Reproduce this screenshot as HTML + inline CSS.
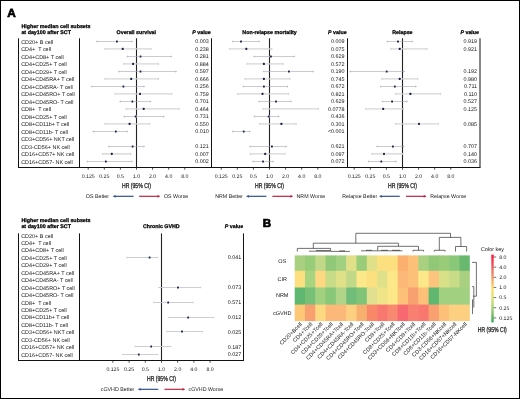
<!DOCTYPE html>
<html><head><meta charset="utf-8"><style>
html,body{margin:0;padding:0;background:#fff;width:520px;height:399px;overflow:hidden;position:relative}
text{font-family:"Liberation Sans", sans-serif;white-space:pre}
svg{text-rendering:geometricPrecision}
</style></head><body>
<svg width="520" height="399" viewBox="0 0 520 399" style="position:absolute;left:0;top:0;will-change:transform;font-family:'Liberation Sans', sans-serif">
<rect x="0" y="0" width="520" height="399" fill="#fff"/>
<rect x="0.5" y="0.5" width="519" height="398" fill="none" stroke="#000" stroke-width="1"/>
<text  x="7.20" y="16.60" font-size="11.8" text-anchor="start" font-weight="bold" fill="#000"   stroke="#000" stroke-width="0.7">A</text>
<text  x="262.70" y="226.70" font-size="11.6" text-anchor="start" font-weight="bold" fill="#000"   stroke="#000" stroke-width="0.7">B</text>
<text  x="21.40" y="27.50" font-size="5.35" text-anchor="start" font-weight="bold" fill="#000"   stroke="#000" stroke-width="0.25">Higher median cell subsets</text>
<text  x="21.40" y="33.60" font-size="5.35" text-anchor="start" font-weight="bold" fill="#000"   stroke="#000" stroke-width="0.25">at day100 after SCT</text>
<line x1="18.50" y1="38.30" x2="18.50" y2="167.50" stroke="#111" stroke-width="1"/>
<line x1="79.50" y1="38.30" x2="79.50" y2="167.50" stroke="#111" stroke-width="1"/>
<line x1="18.00" y1="167.50" x2="480.50" y2="167.50" stroke="#111" stroke-width="1"/>
<text class="r" x="21.20" y="43.50" font-size="5.45" text-anchor="start" font-weight="normal" fill="#151515"   >CD20+ B cell</text>
<text class="r" x="21.20" y="51.00" font-size="5.45" text-anchor="start" font-weight="normal" fill="#151515"   >CD4+  T cell</text>
<text class="r" x="21.20" y="58.50" font-size="5.45" text-anchor="start" font-weight="normal" fill="#151515"   >CD4+CD8+ T cell</text>
<text class="r" x="21.20" y="66.00" font-size="5.45" text-anchor="start" font-weight="normal" fill="#151515"   >CD4+CD25+ T cell</text>
<text class="r" x="21.20" y="73.50" font-size="5.45" text-anchor="start" font-weight="normal" fill="#151515"   >CD4+CD29+ T cell</text>
<text class="r" x="21.20" y="81.00" font-size="5.45" text-anchor="start" font-weight="normal" fill="#151515"   >CD4+CD45RA+ T cell</text>
<text class="r" x="21.20" y="88.50" font-size="5.45" text-anchor="start" font-weight="normal" fill="#151515"   >CD4+CD45RA- T cell</text>
<text class="r" x="21.20" y="96.00" font-size="5.45" text-anchor="start" font-weight="normal" fill="#151515"   >CD4+CD45RO+ T cell</text>
<text class="r" x="21.20" y="103.50" font-size="5.45" text-anchor="start" font-weight="normal" fill="#151515"   >CD4+CD45RO- T cell</text>
<text class="r" x="21.20" y="111.00" font-size="5.45" text-anchor="start" font-weight="normal" fill="#151515"   >CD8+  T cell</text>
<text class="r" x="21.20" y="118.50" font-size="5.45" text-anchor="start" font-weight="normal" fill="#151515"   >CD8+CD25+ T cell</text>
<text class="r" x="21.20" y="126.00" font-size="5.45" text-anchor="start" font-weight="normal" fill="#151515"   >CD8+CD11b+ T cell</text>
<text class="r" x="21.20" y="133.50" font-size="5.45" text-anchor="start" font-weight="normal" fill="#151515"   >CD8+CD11b- T cell</text>
<text class="r" x="21.20" y="141.00" font-size="5.45" text-anchor="start" font-weight="normal" fill="#151515"   >CD3+CD56+ NKT cell</text>
<text class="r" x="21.20" y="148.50" font-size="5.45" text-anchor="start" font-weight="normal" fill="#151515"   >CD3-CD56+ NK cell</text>
<text class="r" x="21.20" y="156.00" font-size="5.45" text-anchor="start" font-weight="normal" fill="#151515"   >CD16+CD57+ NK cell</text>
<text class="r" x="21.20" y="163.50" font-size="5.45" text-anchor="start" font-weight="normal" fill="#151515"   >CD16+CD57- NK cell</text>
<line x1="211.50" y1="38.30" x2="211.50" y2="167.50" stroke="#111" stroke-width="1"/>
<line x1="136.50" y1="38.30" x2="136.50" y2="167.50" stroke="#222" stroke-width="1.1"/>
<text  x="136.30" y="33.60" font-size="5.3" text-anchor="middle" font-weight="bold" fill="#000"   stroke="#000" stroke-width="0.25">Overall survival</text>
<text x="210.80" y="33.60" font-size="5.3" text-anchor="end" font-weight="bold" fill="#000" stroke="#000" stroke-width="0.25"><tspan font-style="italic">P</tspan> value</text>
<line x1="96.20" y1="41.50" x2="132.60" y2="41.50" stroke="#a2a6b8" stroke-width="0.6"/>
<path d="M97.40 40.70 L96.20 41.50 L97.40 42.30" stroke="#a2a6b8" stroke-width="0.5" fill="none"/>
<path d="M131.40 40.70 L132.60 41.50 L131.40 42.30" stroke="#a2a6b8" stroke-width="0.5" fill="none"/>
<rect x="115.95" y="40.45" width="1.9" height="2.1" rx="0.5" fill="#1b2444" stroke="#fff" stroke-width="0.7" paint-order="stroke"/>
<text class="r" x="208.80" y="43.10" font-size="5.4" text-anchor="end" font-weight="normal" fill="#151515"   >0.003</text>
<line x1="104.90" y1="48.90" x2="151.10" y2="48.90" stroke="#d6d6d6" stroke-width="1.4"/>
<line x1="104.90" y1="47.80" x2="104.90" y2="50.00" stroke="#cfcfd4" stroke-width="0.9"/>
<line x1="151.10" y1="47.80" x2="151.10" y2="50.00" stroke="#cfcfd4" stroke-width="0.9"/>
<rect x="121.75" y="47.85" width="1.9" height="2.1" rx="0.5" fill="#1b2444" stroke="#fff" stroke-width="0.7" paint-order="stroke"/>
<text class="r" x="208.80" y="50.60" font-size="5.4" text-anchor="end" font-weight="normal" fill="#151515"   >0.238</text>
<line x1="126.80" y1="56.50" x2="171.90" y2="56.50" stroke="#a2a6b8" stroke-width="0.6"/>
<path d="M128.00 55.70 L126.80 56.50 L128.00 57.30" stroke="#a2a6b8" stroke-width="0.5" fill="none"/>
<path d="M170.70 55.70 L171.90 56.50 L170.70 57.30" stroke="#a2a6b8" stroke-width="0.5" fill="none"/>
<rect x="139.55" y="55.45" width="1.9" height="2.1" rx="0.5" fill="#1b2444" stroke="#fff" stroke-width="0.7" paint-order="stroke"/>
<text class="r" x="208.80" y="58.10" font-size="5.4" text-anchor="end" font-weight="normal" fill="#151515"   >0.281</text>
<line x1="123.80" y1="63.90" x2="158.50" y2="63.90" stroke="#d6d6d6" stroke-width="1.4"/>
<line x1="123.80" y1="62.80" x2="123.80" y2="65.00" stroke="#cfcfd4" stroke-width="0.9"/>
<line x1="158.50" y1="62.80" x2="158.50" y2="65.00" stroke="#cfcfd4" stroke-width="0.9"/>
<rect x="132.15" y="62.85" width="1.9" height="2.1" rx="0.5" fill="#1b2444" stroke="#fff" stroke-width="0.7" paint-order="stroke"/>
<text class="r" x="208.80" y="65.60" font-size="5.4" text-anchor="end" font-weight="normal" fill="#151515"   >0.884</text>
<line x1="118.50" y1="71.50" x2="176.50" y2="71.50" stroke="#a2a6b8" stroke-width="0.6"/>
<path d="M119.70 70.70 L118.50 71.50 L119.70 72.30" stroke="#a2a6b8" stroke-width="0.5" fill="none"/>
<path d="M175.30 70.70 L176.50 71.50 L175.30 72.30" stroke="#a2a6b8" stroke-width="0.5" fill="none"/>
<rect x="139.55" y="70.45" width="1.9" height="2.1" rx="0.5" fill="#1b2444" stroke="#fff" stroke-width="0.7" paint-order="stroke"/>
<text class="r" x="208.80" y="73.10" font-size="5.4" text-anchor="end" font-weight="normal" fill="#151515"   >0.597</text>
<line x1="104.90" y1="78.90" x2="158.50" y2="78.90" stroke="#d6d6d6" stroke-width="1.4"/>
<line x1="104.90" y1="77.80" x2="104.90" y2="80.00" stroke="#cfcfd4" stroke-width="0.9"/>
<line x1="158.50" y1="77.80" x2="158.50" y2="80.00" stroke="#cfcfd4" stroke-width="0.9"/>
<rect x="130.25" y="77.85" width="1.9" height="2.1" rx="0.5" fill="#1b2444" stroke="#fff" stroke-width="0.7" paint-order="stroke"/>
<text class="r" x="208.80" y="80.60" font-size="5.4" text-anchor="end" font-weight="normal" fill="#151515"   >0.666</text>
<line x1="91.10" y1="86.50" x2="144.60" y2="86.50" stroke="#a2a6b8" stroke-width="0.6"/>
<path d="M92.30 85.70 L91.10 86.50 L92.30 87.30" stroke="#a2a6b8" stroke-width="0.5" fill="none"/>
<path d="M143.40 85.70 L144.60 86.50 L143.40 87.30" stroke="#a2a6b8" stroke-width="0.5" fill="none"/>
<rect x="122.45" y="85.45" width="1.9" height="2.1" rx="0.5" fill="#1b2444" stroke="#fff" stroke-width="0.7" paint-order="stroke"/>
<text class="r" x="208.80" y="88.10" font-size="5.4" text-anchor="end" font-weight="normal" fill="#151515"   >0.256</text>
<line x1="115.10" y1="93.90" x2="171.90" y2="93.90" stroke="#d6d6d6" stroke-width="1.4"/>
<line x1="115.10" y1="92.80" x2="115.10" y2="95.00" stroke="#cfcfd4" stroke-width="0.9"/>
<line x1="171.90" y1="92.80" x2="171.90" y2="95.00" stroke="#cfcfd4" stroke-width="0.9"/>
<rect x="139.05" y="92.85" width="1.9" height="2.1" rx="0.5" fill="#1b2444" stroke="#fff" stroke-width="0.7" paint-order="stroke"/>
<text class="r" x="208.80" y="95.60" font-size="5.4" text-anchor="end" font-weight="normal" fill="#151515"   >0.759</text>
<line x1="119.70" y1="101.50" x2="151.10" y2="101.50" stroke="#a2a6b8" stroke-width="0.6"/>
<path d="M120.90 100.70 L119.70 101.50 L120.90 102.30" stroke="#a2a6b8" stroke-width="0.5" fill="none"/>
<path d="M149.90 100.70 L151.10 101.50 L149.90 102.30" stroke="#a2a6b8" stroke-width="0.5" fill="none"/>
<rect x="131.45" y="100.45" width="1.9" height="2.1" rx="0.5" fill="#1b2444" stroke="#fff" stroke-width="0.7" paint-order="stroke"/>
<text class="r" x="208.80" y="103.10" font-size="5.4" text-anchor="end" font-weight="normal" fill="#151515"   >0.701</text>
<line x1="126.20" y1="108.90" x2="179.20" y2="108.90" stroke="#d6d6d6" stroke-width="1.4"/>
<line x1="126.20" y1="107.80" x2="126.20" y2="110.00" stroke="#cfcfd4" stroke-width="0.9"/>
<line x1="179.20" y1="107.80" x2="179.20" y2="110.00" stroke="#cfcfd4" stroke-width="0.9"/>
<rect x="142.75" y="107.85" width="1.9" height="2.1" rx="0.5" fill="#1b2444" stroke="#fff" stroke-width="0.7" paint-order="stroke"/>
<text class="r" x="208.80" y="110.60" font-size="5.4" text-anchor="end" font-weight="normal" fill="#151515"   >0.464</text>
<line x1="123.80" y1="116.50" x2="164.20" y2="116.50" stroke="#a2a6b8" stroke-width="0.6"/>
<path d="M125.00 115.70 L123.80 116.50 L125.00 117.30" stroke="#a2a6b8" stroke-width="0.5" fill="none"/>
<path d="M163.00 115.70 L164.20 116.50 L163.00 117.30" stroke="#a2a6b8" stroke-width="0.5" fill="none"/>
<rect x="134.65" y="115.45" width="1.9" height="2.1" rx="0.5" fill="#1b2444" stroke="#fff" stroke-width="0.7" paint-order="stroke"/>
<text class="r" x="208.80" y="118.10" font-size="5.4" text-anchor="end" font-weight="normal" fill="#151515"   >0.731</text>
<line x1="104.90" y1="123.90" x2="149.70" y2="123.90" stroke="#d6d6d6" stroke-width="1.4"/>
<line x1="104.90" y1="122.80" x2="104.90" y2="125.00" stroke="#cfcfd4" stroke-width="0.9"/>
<line x1="149.70" y1="122.80" x2="149.70" y2="125.00" stroke="#cfcfd4" stroke-width="0.9"/>
<rect x="128.65" y="122.85" width="1.9" height="2.1" rx="0.5" fill="#1b2444" stroke="#fff" stroke-width="0.7" paint-order="stroke"/>
<text class="r" x="208.80" y="125.60" font-size="5.4" text-anchor="end" font-weight="normal" fill="#151515"   >0.550</text>
<line x1="92.70" y1="131.50" x2="127.80" y2="131.50" stroke="#a2a6b8" stroke-width="0.6"/>
<path d="M93.90 130.70 L92.70 131.50 L93.90 132.30" stroke="#a2a6b8" stroke-width="0.5" fill="none"/>
<path d="M126.60 130.70 L127.80 131.50 L126.60 132.30" stroke="#a2a6b8" stroke-width="0.5" fill="none"/>
<rect x="114.85" y="130.45" width="1.9" height="2.1" rx="0.5" fill="#1b2444" stroke="#fff" stroke-width="0.7" paint-order="stroke"/>
<text class="r" x="208.80" y="133.10" font-size="5.4" text-anchor="end" font-weight="normal" fill="#151515"   >0.010</text>
<line x1="108.20" y1="146.50" x2="144.60" y2="146.50" stroke="#a2a6b8" stroke-width="0.6"/>
<path d="M109.40 145.70 L108.20 146.50 L109.40 147.30" stroke="#a2a6b8" stroke-width="0.5" fill="none"/>
<path d="M143.40 145.70 L144.60 146.50 L143.40 147.30" stroke="#a2a6b8" stroke-width="0.5" fill="none"/>
<rect x="131.65" y="145.45" width="1.9" height="2.1" rx="0.5" fill="#1b2444" stroke="#fff" stroke-width="0.7" paint-order="stroke"/>
<text class="r" x="208.80" y="148.10" font-size="5.4" text-anchor="end" font-weight="normal" fill="#151515"   >0.121</text>
<line x1="102.40" y1="153.90" x2="130.80" y2="153.90" stroke="#d6d6d6" stroke-width="1.4"/>
<line x1="102.40" y1="152.80" x2="102.40" y2="155.00" stroke="#cfcfd4" stroke-width="0.9"/>
<line x1="130.80" y1="152.80" x2="130.80" y2="155.00" stroke="#cfcfd4" stroke-width="0.9"/>
<rect x="110.85" y="152.85" width="1.9" height="2.1" rx="0.5" fill="#1b2444" stroke="#fff" stroke-width="0.7" paint-order="stroke"/>
<text class="r" x="208.80" y="155.60" font-size="5.4" text-anchor="end" font-weight="normal" fill="#151515"   >0.007</text>
<line x1="86.90" y1="161.50" x2="132.60" y2="161.50" stroke="#a2a6b8" stroke-width="0.6"/>
<path d="M88.10 160.70 L86.90 161.50 L88.10 162.30" stroke="#a2a6b8" stroke-width="0.5" fill="none"/>
<path d="M131.40 160.70 L132.60 161.50 L131.40 162.30" stroke="#a2a6b8" stroke-width="0.5" fill="none"/>
<rect x="104.85" y="160.45" width="1.9" height="2.1" rx="0.5" fill="#1b2444" stroke="#fff" stroke-width="0.7" paint-order="stroke"/>
<text class="r" x="208.80" y="163.10" font-size="5.4" text-anchor="end" font-weight="normal" fill="#151515"   >0.002</text>
<line x1="88.20" y1="167.50" x2="88.20" y2="169.70" stroke="#222" stroke-width="0.8"/>
<text class="r" x="88.20" y="178.00" font-size="5.2" text-anchor="middle" font-weight="normal" fill="#151515"   >0.125</text>
<line x1="104.30" y1="167.50" x2="104.30" y2="169.70" stroke="#222" stroke-width="0.8"/>
<text class="r" x="104.30" y="178.00" font-size="5.2" text-anchor="middle" font-weight="normal" fill="#151515"   >0.25</text>
<line x1="120.40" y1="167.50" x2="120.40" y2="169.70" stroke="#222" stroke-width="0.8"/>
<text class="r" x="120.40" y="178.00" font-size="5.2" text-anchor="middle" font-weight="normal" fill="#151515"   >0.5</text>
<line x1="136.50" y1="167.50" x2="136.50" y2="169.70" stroke="#222" stroke-width="0.8"/>
<text class="r" x="136.50" y="178.00" font-size="5.2" text-anchor="middle" font-weight="normal" fill="#151515"   >1.0</text>
<line x1="152.60" y1="167.50" x2="152.60" y2="169.70" stroke="#222" stroke-width="0.8"/>
<text class="r" x="152.60" y="178.00" font-size="5.2" text-anchor="middle" font-weight="normal" fill="#151515"   >2.0</text>
<line x1="168.70" y1="167.50" x2="168.70" y2="169.70" stroke="#222" stroke-width="0.8"/>
<text class="r" x="168.70" y="178.00" font-size="5.2" text-anchor="middle" font-weight="normal" fill="#151515"   >4.0</text>
<line x1="184.80" y1="167.50" x2="184.80" y2="169.70" stroke="#222" stroke-width="0.8"/>
<text class="r" x="184.80" y="178.00" font-size="5.2" text-anchor="middle" font-weight="normal" fill="#151515"   >8.0</text>
<text x="0" y="0" font-size="7.1" text-anchor="middle" font-weight="normal" fill="#222" stroke="#222" stroke-width="0.3" transform="translate(136.50,187.90) scale(0.72,1)">HR (95% CI)</text>
<text class="r" x="85.80" y="198.20" font-size="5.3" text-anchor="start" font-weight="normal" fill="#151515"   >OS Better</text>
<text class="r" x="163.90" y="198.20" font-size="5.3" text-anchor="start" font-weight="normal" fill="#151515"   >OS Worse</text>
<line x1="114.10" y1="196.30" x2="133.60" y2="196.30" stroke="#2a4a8a" stroke-width="1.15"/>
<path d="M112.60 196.30 L115.80 194.95 L115.20 196.30 L115.80 197.65 Z" fill="#2a4a8a"/>
<line x1="139.10" y1="196.30" x2="159.00" y2="196.30" stroke="#b81c3c" stroke-width="1.15"/>
<path d="M160.50 196.30 L157.30 194.95 L157.90 196.30 L157.30 197.65 Z" fill="#b81c3c"/>
<line x1="347.50" y1="38.30" x2="347.50" y2="167.50" stroke="#111" stroke-width="1"/>
<line x1="269.50" y1="38.30" x2="269.50" y2="167.50" stroke="#222" stroke-width="1.1"/>
<text  x="269.60" y="33.60" font-size="5.3" text-anchor="middle" font-weight="bold" fill="#000"   stroke="#000" stroke-width="0.25">Non-relapse mortality</text>
<text x="346.60" y="33.60" font-size="5.3" text-anchor="end" font-weight="bold" fill="#000" stroke="#000" stroke-width="0.25"><tspan font-style="italic">P</tspan> value</text>
<line x1="232.10" y1="41.50" x2="259.80" y2="41.50" stroke="#a2a6b8" stroke-width="0.6"/>
<path d="M233.30 40.70 L232.10 41.50 L233.30 42.30" stroke="#a2a6b8" stroke-width="0.5" fill="none"/>
<path d="M258.60 40.70 L259.80 41.50 L258.60 42.30" stroke="#a2a6b8" stroke-width="0.5" fill="none"/>
<rect x="240.05" y="40.45" width="1.9" height="2.1" rx="0.5" fill="#1b2444" stroke="#fff" stroke-width="0.7" paint-order="stroke"/>
<text class="r" x="344.60" y="43.10" font-size="5.4" text-anchor="end" font-weight="normal" fill="#151515"   >0.009</text>
<line x1="229.40" y1="48.90" x2="271.90" y2="48.90" stroke="#d6d6d6" stroke-width="1.4"/>
<line x1="229.40" y1="47.80" x2="229.40" y2="50.00" stroke="#cfcfd4" stroke-width="0.9"/>
<line x1="271.90" y1="47.80" x2="271.90" y2="50.00" stroke="#cfcfd4" stroke-width="0.9"/>
<rect x="245.35" y="47.85" width="1.9" height="2.1" rx="0.5" fill="#1b2444" stroke="#fff" stroke-width="0.7" paint-order="stroke"/>
<text class="r" x="344.60" y="50.60" font-size="5.4" text-anchor="end" font-weight="normal" fill="#151515"   >0.075</text>
<line x1="253.60" y1="56.50" x2="294.80" y2="56.50" stroke="#a2a6b8" stroke-width="0.6"/>
<path d="M254.80 55.70 L253.60 56.50 L254.80 57.30" stroke="#a2a6b8" stroke-width="0.5" fill="none"/>
<path d="M293.60 55.70 L294.80 56.50 L293.60 57.30" stroke="#a2a6b8" stroke-width="0.5" fill="none"/>
<rect x="269.95" y="55.45" width="1.9" height="2.1" rx="0.5" fill="#1b2444" stroke="#fff" stroke-width="0.7" paint-order="stroke"/>
<text class="r" x="344.60" y="58.10" font-size="5.4" text-anchor="end" font-weight="normal" fill="#151515"   >0.629</text>
<line x1="246.90" y1="63.90" x2="283.20" y2="63.90" stroke="#d6d6d6" stroke-width="1.4"/>
<line x1="246.90" y1="62.80" x2="246.90" y2="65.00" stroke="#cfcfd4" stroke-width="0.9"/>
<line x1="283.20" y1="62.80" x2="283.20" y2="65.00" stroke="#cfcfd4" stroke-width="0.9"/>
<rect x="262.95" y="62.85" width="1.9" height="2.1" rx="0.5" fill="#1b2444" stroke="#fff" stroke-width="0.7" paint-order="stroke"/>
<text class="r" x="344.60" y="65.60" font-size="5.4" text-anchor="end" font-weight="normal" fill="#151515"   >0.572</text>
<line x1="263.00" y1="71.50" x2="313.70" y2="71.50" stroke="#a2a6b8" stroke-width="0.6"/>
<path d="M264.20 70.70 L263.00 71.50 L264.20 72.30" stroke="#a2a6b8" stroke-width="0.5" fill="none"/>
<path d="M312.50 70.70 L313.70 71.50 L312.50 72.30" stroke="#a2a6b8" stroke-width="0.5" fill="none"/>
<rect x="287.95" y="70.45" width="1.9" height="2.1" rx="0.5" fill="#1b2444" stroke="#fff" stroke-width="0.7" paint-order="stroke"/>
<text class="r" x="344.60" y="73.10" font-size="5.4" text-anchor="end" font-weight="normal" fill="#151515"   >0.190</text>
<line x1="245.00" y1="78.90" x2="290.00" y2="78.90" stroke="#d6d6d6" stroke-width="1.4"/>
<line x1="245.00" y1="77.80" x2="245.00" y2="80.00" stroke="#cfcfd4" stroke-width="0.9"/>
<line x1="290.00" y1="77.80" x2="290.00" y2="80.00" stroke="#cfcfd4" stroke-width="0.9"/>
<rect x="262.95" y="77.85" width="1.9" height="2.1" rx="0.5" fill="#1b2444" stroke="#fff" stroke-width="0.7" paint-order="stroke"/>
<text class="r" x="344.60" y="80.60" font-size="5.4" text-anchor="end" font-weight="normal" fill="#151515"   >0.745</text>
<line x1="242.80" y1="86.50" x2="288.10" y2="86.50" stroke="#a2a6b8" stroke-width="0.6"/>
<path d="M244.00 85.70 L242.80 86.50 L244.00 87.30" stroke="#a2a6b8" stroke-width="0.5" fill="none"/>
<path d="M286.90 85.70 L288.10 86.50 L286.90 87.30" stroke="#a2a6b8" stroke-width="0.5" fill="none"/>
<rect x="262.95" y="85.45" width="1.9" height="2.1" rx="0.5" fill="#1b2444" stroke="#fff" stroke-width="0.7" paint-order="stroke"/>
<text class="r" x="344.60" y="88.10" font-size="5.4" text-anchor="end" font-weight="normal" fill="#151515"   >0.672</text>
<line x1="237.50" y1="93.90" x2="288.60" y2="93.90" stroke="#d6d6d6" stroke-width="1.4"/>
<line x1="237.50" y1="92.80" x2="237.50" y2="95.00" stroke="#cfcfd4" stroke-width="0.9"/>
<line x1="288.60" y1="92.80" x2="288.60" y2="95.00" stroke="#cfcfd4" stroke-width="0.9"/>
<rect x="261.55" y="92.85" width="1.9" height="2.1" rx="0.5" fill="#1b2444" stroke="#fff" stroke-width="0.7" paint-order="stroke"/>
<text class="r" x="344.60" y="95.60" font-size="5.4" text-anchor="end" font-weight="normal" fill="#151515"   >0.821</text>
<line x1="258.50" y1="101.50" x2="291.60" y2="101.50" stroke="#a2a6b8" stroke-width="0.6"/>
<path d="M259.70 100.70 L258.50 101.50 L259.70 102.30" stroke="#a2a6b8" stroke-width="0.5" fill="none"/>
<path d="M290.40 100.70 L291.60 101.50 L290.40 102.30" stroke="#a2a6b8" stroke-width="0.5" fill="none"/>
<rect x="275.05" y="100.45" width="1.9" height="2.1" rx="0.5" fill="#1b2444" stroke="#fff" stroke-width="0.7" paint-order="stroke"/>
<text class="r" x="344.60" y="103.10" font-size="5.4" text-anchor="end" font-weight="normal" fill="#151515"   >0.629</text>
<line x1="263.00" y1="108.90" x2="318.50" y2="108.90" stroke="#d6d6d6" stroke-width="1.4"/>
<line x1="263.00" y1="107.80" x2="263.00" y2="110.00" stroke="#cfcfd4" stroke-width="0.9"/>
<line x1="318.50" y1="107.80" x2="318.50" y2="110.00" stroke="#cfcfd4" stroke-width="0.9"/>
<text class="r" x="344.60" y="110.60" font-size="5.4" text-anchor="end" font-weight="normal" fill="#151515"   >0.0778</text>
<line x1="253.90" y1="116.50" x2="279.20" y2="116.50" stroke="#a2a6b8" stroke-width="0.6"/>
<path d="M255.10 115.70 L253.90 116.50 L255.10 117.30" stroke="#a2a6b8" stroke-width="0.5" fill="none"/>
<path d="M278.00 115.70 L279.20 116.50 L278.00 117.30" stroke="#a2a6b8" stroke-width="0.5" fill="none"/>
<rect x="267.75" y="115.45" width="1.9" height="2.1" rx="0.5" fill="#1b2444" stroke="#fff" stroke-width="0.7" paint-order="stroke"/>
<text class="r" x="344.60" y="118.10" font-size="5.4" text-anchor="end" font-weight="normal" fill="#151515"   >0.436</text>
<line x1="259.80" y1="123.90" x2="296.20" y2="123.90" stroke="#d6d6d6" stroke-width="1.4"/>
<line x1="259.80" y1="122.80" x2="259.80" y2="125.00" stroke="#cfcfd4" stroke-width="0.9"/>
<line x1="296.20" y1="122.80" x2="296.20" y2="125.00" stroke="#cfcfd4" stroke-width="0.9"/>
<rect x="280.45" y="122.85" width="1.9" height="2.1" rx="0.5" fill="#1b2444" stroke="#fff" stroke-width="0.7" paint-order="stroke"/>
<text class="r" x="344.60" y="125.60" font-size="5.4" text-anchor="end" font-weight="normal" fill="#151515"   >0.301</text>
<line x1="232.10" y1="131.50" x2="250.40" y2="131.50" stroke="#a2a6b8" stroke-width="0.6"/>
<path d="M233.30 130.70 L232.10 131.50 L233.30 132.30" stroke="#a2a6b8" stroke-width="0.5" fill="none"/>
<path d="M249.20 130.70 L250.40 131.50 L249.20 132.30" stroke="#a2a6b8" stroke-width="0.5" fill="none"/>
<rect x="242.75" y="130.45" width="1.9" height="2.1" rx="0.5" fill="#1b2444" stroke="#fff" stroke-width="0.7" paint-order="stroke"/>
<text class="r" x="344.60" y="133.10" font-size="5.4" text-anchor="end" font-weight="normal" fill="#151515"   >&lt;0.001</text>
<line x1="249.60" y1="146.50" x2="286.70" y2="146.50" stroke="#a2a6b8" stroke-width="0.6"/>
<path d="M250.80 145.70 L249.60 146.50 L250.80 147.30" stroke="#a2a6b8" stroke-width="0.5" fill="none"/>
<path d="M285.50 145.70 L286.70 146.50 L285.50 147.30" stroke="#a2a6b8" stroke-width="0.5" fill="none"/>
<rect x="270.95" y="145.45" width="1.9" height="2.1" rx="0.5" fill="#1b2444" stroke="#fff" stroke-width="0.7" paint-order="stroke"/>
<text class="r" x="344.60" y="148.10" font-size="5.4" text-anchor="end" font-weight="normal" fill="#151515"   >0.621</text>
<line x1="250.40" y1="153.90" x2="284.90" y2="153.90" stroke="#d6d6d6" stroke-width="1.4"/>
<line x1="250.40" y1="152.80" x2="250.40" y2="155.00" stroke="#cfcfd4" stroke-width="0.9"/>
<line x1="284.90" y1="152.80" x2="284.90" y2="155.00" stroke="#cfcfd4" stroke-width="0.9"/>
<rect x="264.25" y="152.85" width="1.9" height="2.1" rx="0.5" fill="#1b2444" stroke="#fff" stroke-width="0.7" paint-order="stroke"/>
<text class="r" x="344.60" y="155.60" font-size="5.4" text-anchor="end" font-weight="normal" fill="#151515"   >0.097</text>
<line x1="252.50" y1="161.50" x2="273.80" y2="161.50" stroke="#a2a6b8" stroke-width="0.6"/>
<path d="M253.70 160.70 L252.50 161.50 L253.70 162.30" stroke="#a2a6b8" stroke-width="0.5" fill="none"/>
<path d="M272.60 160.70 L273.80 161.50 L272.60 162.30" stroke="#a2a6b8" stroke-width="0.5" fill="none"/>
<rect x="262.05" y="160.45" width="1.9" height="2.1" rx="0.5" fill="#1b2444" stroke="#fff" stroke-width="0.7" paint-order="stroke"/>
<text class="r" x="344.60" y="163.10" font-size="5.4" text-anchor="end" font-weight="normal" fill="#151515"   >0.072</text>
<line x1="221.20" y1="167.50" x2="221.20" y2="169.70" stroke="#222" stroke-width="0.8"/>
<text class="r" x="221.20" y="178.00" font-size="5.2" text-anchor="middle" font-weight="normal" fill="#151515"   >0.125</text>
<line x1="237.30" y1="167.50" x2="237.30" y2="169.70" stroke="#222" stroke-width="0.8"/>
<text class="r" x="237.30" y="178.00" font-size="5.2" text-anchor="middle" font-weight="normal" fill="#151515"   >0.25</text>
<line x1="253.40" y1="167.50" x2="253.40" y2="169.70" stroke="#222" stroke-width="0.8"/>
<text class="r" x="253.40" y="178.00" font-size="5.2" text-anchor="middle" font-weight="normal" fill="#151515"   >0.5</text>
<line x1="269.50" y1="167.50" x2="269.50" y2="169.70" stroke="#222" stroke-width="0.8"/>
<text class="r" x="269.50" y="178.00" font-size="5.2" text-anchor="middle" font-weight="normal" fill="#151515"   >1.0</text>
<line x1="285.60" y1="167.50" x2="285.60" y2="169.70" stroke="#222" stroke-width="0.8"/>
<text class="r" x="285.60" y="178.00" font-size="5.2" text-anchor="middle" font-weight="normal" fill="#151515"   >2.0</text>
<line x1="301.70" y1="167.50" x2="301.70" y2="169.70" stroke="#222" stroke-width="0.8"/>
<text class="r" x="301.70" y="178.00" font-size="5.2" text-anchor="middle" font-weight="normal" fill="#151515"   >4.0</text>
<line x1="317.80" y1="167.50" x2="317.80" y2="169.70" stroke="#222" stroke-width="0.8"/>
<text class="r" x="317.80" y="178.00" font-size="5.2" text-anchor="middle" font-weight="normal" fill="#151515"   >8.0</text>
<text x="0" y="0" font-size="7.1" text-anchor="middle" font-weight="normal" fill="#222" stroke="#222" stroke-width="0.3" transform="translate(269.50,187.90) scale(0.72,1)">HR (95% CI)</text>
<text class="r" x="215.20" y="198.20" font-size="5.3" text-anchor="start" font-weight="normal" fill="#151515"   >NRM Better</text>
<text class="r" x="296.50" y="198.20" font-size="5.3" text-anchor="start" font-weight="normal" fill="#151515"   >NRM Worse</text>
<line x1="247.50" y1="196.30" x2="266.40" y2="196.30" stroke="#2a4a8a" stroke-width="1.15"/>
<path d="M246.00 196.30 L249.20 194.95 L248.60 196.30 L249.20 197.65 Z" fill="#2a4a8a"/>
<line x1="272.30" y1="196.30" x2="291.80" y2="196.30" stroke="#b81c3c" stroke-width="1.15"/>
<path d="M293.30 196.30 L290.10 194.95 L290.70 196.30 L290.10 197.65 Z" fill="#b81c3c"/>
<line x1="480.00" y1="38.30" x2="480.00" y2="167.50" stroke="#111" stroke-width="1"/>
<line x1="402.50" y1="38.30" x2="402.50" y2="167.50" stroke="#222" stroke-width="1.1"/>
<text  x="402.40" y="33.60" font-size="5.3" text-anchor="middle" font-weight="bold" fill="#000"   stroke="#000" stroke-width="0.25">Relapse</text>
<text x="479.00" y="33.60" font-size="5.3" text-anchor="end" font-weight="bold" fill="#000" stroke="#000" stroke-width="0.25"><tspan font-style="italic">P</tspan> value</text>
<line x1="386.70" y1="41.50" x2="413.10" y2="41.50" stroke="#a2a6b8" stroke-width="0.6"/>
<path d="M387.90 40.70 L386.70 41.50 L387.90 42.30" stroke="#a2a6b8" stroke-width="0.5" fill="none"/>
<path d="M411.90 40.70 L413.10 41.50 L411.90 42.30" stroke="#a2a6b8" stroke-width="0.5" fill="none"/>
<rect x="397.05" y="40.45" width="1.9" height="2.1" rx="0.5" fill="#1b2444" stroke="#fff" stroke-width="0.7" paint-order="stroke"/>
<text class="r" x="477.00" y="43.10" font-size="5.4" text-anchor="end" font-weight="normal" fill="#151515"   >0.919</text>
<line x1="390.80" y1="48.90" x2="427.10" y2="48.90" stroke="#d6d6d6" stroke-width="1.4"/>
<line x1="390.80" y1="47.80" x2="390.80" y2="50.00" stroke="#cfcfd4" stroke-width="0.9"/>
<line x1="427.10" y1="47.80" x2="427.10" y2="50.00" stroke="#cfcfd4" stroke-width="0.9"/>
<rect x="398.75" y="47.85" width="1.9" height="2.1" rx="0.5" fill="#1b2444" stroke="#fff" stroke-width="0.7" paint-order="stroke"/>
<text class="r" x="477.00" y="50.60" font-size="5.4" text-anchor="end" font-weight="normal" fill="#151515"   >0.921</text>
<line x1="349.80" y1="71.50" x2="404.80" y2="71.50" stroke="#a2a6b8" stroke-width="0.6"/>
<path d="M351.00 70.70 L349.80 71.50 L351.00 72.30" stroke="#a2a6b8" stroke-width="0.5" fill="none"/>
<path d="M403.60 70.70 L404.80 71.50 L403.60 72.30" stroke="#a2a6b8" stroke-width="0.5" fill="none"/>
<rect x="385.75" y="70.45" width="1.9" height="2.1" rx="0.5" fill="#1b2444" stroke="#fff" stroke-width="0.7" paint-order="stroke"/>
<text class="r" x="477.00" y="73.10" font-size="5.4" text-anchor="end" font-weight="normal" fill="#151515"   >0.192</text>
<line x1="381.90" y1="78.90" x2="417.70" y2="78.90" stroke="#d6d6d6" stroke-width="1.4"/>
<line x1="381.90" y1="77.80" x2="381.90" y2="80.00" stroke="#cfcfd4" stroke-width="0.9"/>
<line x1="417.70" y1="77.80" x2="417.70" y2="80.00" stroke="#cfcfd4" stroke-width="0.9"/>
<rect x="398.75" y="77.85" width="1.9" height="2.1" rx="0.5" fill="#1b2444" stroke="#fff" stroke-width="0.7" paint-order="stroke"/>
<text class="r" x="477.00" y="80.60" font-size="5.4" text-anchor="end" font-weight="normal" fill="#151515"   >0.980</text>
<line x1="380.00" y1="86.50" x2="416.40" y2="86.50" stroke="#a2a6b8" stroke-width="0.6"/>
<path d="M381.20 85.70 L380.00 86.50 L381.20 87.30" stroke="#a2a6b8" stroke-width="0.5" fill="none"/>
<path d="M415.20 85.70 L416.40 86.50 L415.20 87.30" stroke="#a2a6b8" stroke-width="0.5" fill="none"/>
<rect x="393.85" y="85.45" width="1.9" height="2.1" rx="0.5" fill="#1b2444" stroke="#fff" stroke-width="0.7" paint-order="stroke"/>
<text class="r" x="477.00" y="88.10" font-size="5.4" text-anchor="end" font-weight="normal" fill="#151515"   >0.711</text>
<line x1="395.60" y1="93.90" x2="440.60" y2="93.90" stroke="#d6d6d6" stroke-width="1.4"/>
<line x1="395.60" y1="92.80" x2="395.60" y2="95.00" stroke="#cfcfd4" stroke-width="0.9"/>
<line x1="440.60" y1="92.80" x2="440.60" y2="95.00" stroke="#cfcfd4" stroke-width="0.9"/>
<rect x="409.45" y="92.85" width="1.9" height="2.1" rx="0.5" fill="#1b2444" stroke="#fff" stroke-width="0.7" paint-order="stroke"/>
<text class="r" x="477.00" y="95.60" font-size="5.4" text-anchor="end" font-weight="normal" fill="#151515"   >0.110</text>
<line x1="381.90" y1="101.50" x2="407.50" y2="101.50" stroke="#a2a6b8" stroke-width="0.6"/>
<path d="M383.10 100.70 L381.90 101.50 L383.10 102.30" stroke="#a2a6b8" stroke-width="0.5" fill="none"/>
<path d="M406.30 100.70 L407.50 101.50 L406.30 102.30" stroke="#a2a6b8" stroke-width="0.5" fill="none"/>
<rect x="391.15" y="100.45" width="1.9" height="2.1" rx="0.5" fill="#1b2444" stroke="#fff" stroke-width="0.7" paint-order="stroke"/>
<text class="r" x="477.00" y="103.10" font-size="5.4" text-anchor="end" font-weight="normal" fill="#151515"   >0.527</text>
<line x1="365.70" y1="108.90" x2="403.40" y2="108.90" stroke="#d6d6d6" stroke-width="1.4"/>
<line x1="365.70" y1="107.80" x2="365.70" y2="110.00" stroke="#cfcfd4" stroke-width="0.9"/>
<line x1="403.40" y1="107.80" x2="403.40" y2="110.00" stroke="#cfcfd4" stroke-width="0.9"/>
<rect x="382.25" y="107.85" width="1.9" height="2.1" rx="0.5" fill="#1b2444" stroke="#fff" stroke-width="0.7" paint-order="stroke"/>
<text class="r" x="477.00" y="110.60" font-size="5.4" text-anchor="end" font-weight="normal" fill="#151515"   >0.125</text>
<line x1="395.30" y1="123.90" x2="438.40" y2="123.90" stroke="#d6d6d6" stroke-width="1.4"/>
<line x1="395.30" y1="122.80" x2="395.30" y2="125.00" stroke="#cfcfd4" stroke-width="0.9"/>
<line x1="438.40" y1="122.80" x2="438.40" y2="125.00" stroke="#cfcfd4" stroke-width="0.9"/>
<rect x="418.05" y="122.85" width="1.9" height="2.1" rx="0.5" fill="#1b2444" stroke="#fff" stroke-width="0.7" paint-order="stroke"/>
<text class="r" x="477.00" y="125.60" font-size="5.4" text-anchor="end" font-weight="normal" fill="#151515"   >0.085</text>
<line x1="376.50" y1="146.50" x2="404.20" y2="146.50" stroke="#a2a6b8" stroke-width="0.6"/>
<path d="M377.70 145.70 L376.50 146.50 L377.70 147.30" stroke="#a2a6b8" stroke-width="0.5" fill="none"/>
<path d="M403.00 145.70 L404.20 146.50 L403.00 147.30" stroke="#a2a6b8" stroke-width="0.5" fill="none"/>
<rect x="391.95" y="145.45" width="1.9" height="2.1" rx="0.5" fill="#1b2444" stroke="#fff" stroke-width="0.7" paint-order="stroke"/>
<text class="r" x="477.00" y="148.10" font-size="5.4" text-anchor="end" font-weight="normal" fill="#151515"   >0.707</text>
<line x1="371.90" y1="153.90" x2="402.90" y2="153.90" stroke="#d6d6d6" stroke-width="1.4"/>
<line x1="371.90" y1="152.80" x2="371.90" y2="155.00" stroke="#cfcfd4" stroke-width="0.9"/>
<line x1="402.90" y1="152.80" x2="402.90" y2="155.00" stroke="#cfcfd4" stroke-width="0.9"/>
<rect x="383.05" y="152.85" width="1.9" height="2.1" rx="0.5" fill="#1b2444" stroke="#fff" stroke-width="0.7" paint-order="stroke"/>
<text class="r" x="477.00" y="155.60" font-size="5.4" text-anchor="end" font-weight="normal" fill="#151515"   >0.140</text>
<line x1="367.90" y1="161.50" x2="396.70" y2="161.50" stroke="#a2a6b8" stroke-width="0.6"/>
<path d="M369.10 160.70 L367.90 161.50 L369.10 162.30" stroke="#a2a6b8" stroke-width="0.5" fill="none"/>
<path d="M395.50 160.70 L396.70 161.50 L395.50 162.30" stroke="#a2a6b8" stroke-width="0.5" fill="none"/>
<rect x="380.35" y="160.45" width="1.9" height="2.1" rx="0.5" fill="#1b2444" stroke="#fff" stroke-width="0.7" paint-order="stroke"/>
<text class="r" x="477.00" y="163.10" font-size="5.4" text-anchor="end" font-weight="normal" fill="#151515"   >0.036</text>
<line x1="354.20" y1="167.50" x2="354.20" y2="169.70" stroke="#222" stroke-width="0.8"/>
<text class="r" x="354.20" y="178.00" font-size="5.2" text-anchor="middle" font-weight="normal" fill="#151515"   >0.125</text>
<line x1="370.30" y1="167.50" x2="370.30" y2="169.70" stroke="#222" stroke-width="0.8"/>
<text class="r" x="370.30" y="178.00" font-size="5.2" text-anchor="middle" font-weight="normal" fill="#151515"   >0.25</text>
<line x1="386.40" y1="167.50" x2="386.40" y2="169.70" stroke="#222" stroke-width="0.8"/>
<text class="r" x="386.40" y="178.00" font-size="5.2" text-anchor="middle" font-weight="normal" fill="#151515"   >0.5</text>
<line x1="402.50" y1="167.50" x2="402.50" y2="169.70" stroke="#222" stroke-width="0.8"/>
<text class="r" x="402.50" y="178.00" font-size="5.2" text-anchor="middle" font-weight="normal" fill="#151515"   >1.0</text>
<line x1="418.60" y1="167.50" x2="418.60" y2="169.70" stroke="#222" stroke-width="0.8"/>
<text class="r" x="418.60" y="178.00" font-size="5.2" text-anchor="middle" font-weight="normal" fill="#151515"   >2.0</text>
<line x1="434.70" y1="167.50" x2="434.70" y2="169.70" stroke="#222" stroke-width="0.8"/>
<text class="r" x="434.70" y="178.00" font-size="5.2" text-anchor="middle" font-weight="normal" fill="#151515"   >4.0</text>
<line x1="450.80" y1="167.50" x2="450.80" y2="169.70" stroke="#222" stroke-width="0.8"/>
<text class="r" x="450.80" y="178.00" font-size="5.2" text-anchor="middle" font-weight="normal" fill="#151515"   >8.0</text>
<text x="0" y="0" font-size="7.1" text-anchor="middle" font-weight="normal" fill="#222" stroke="#222" stroke-width="0.3" transform="translate(402.50,187.90) scale(0.72,1)">HR (95% CI)</text>
<text class="r" x="342.20" y="198.20" font-size="5.3" text-anchor="start" font-weight="normal" fill="#151515"   >Relapse Better</text>
<text class="r" x="430.20" y="198.20" font-size="5.3" text-anchor="start" font-weight="normal" fill="#151515"   >Relapse Worse</text>
<line x1="380.50" y1="196.30" x2="399.80" y2="196.30" stroke="#2a4a8a" stroke-width="1.15"/>
<path d="M379.00 196.30 L382.20 194.95 L381.60 196.30 L382.20 197.65 Z" fill="#2a4a8a"/>
<line x1="406.00" y1="196.30" x2="425.20" y2="196.30" stroke="#b81c3c" stroke-width="1.15"/>
<path d="M426.70 196.30 L423.50 194.95 L424.10 196.30 L423.50 197.65 Z" fill="#b81c3c"/>
<text  x="21.40" y="222.20" font-size="5.35" text-anchor="start" font-weight="bold" fill="#000"   stroke="#000" stroke-width="0.25">Higher median cell subsets</text>
<text  x="21.40" y="228.30" font-size="5.35" text-anchor="start" font-weight="bold" fill="#000"   stroke="#000" stroke-width="0.25">at day100 after SCT</text>
<line x1="18.50" y1="233.40" x2="18.50" y2="360.50" stroke="#111" stroke-width="1"/>
<line x1="79.50" y1="233.40" x2="79.50" y2="360.50" stroke="#111" stroke-width="1"/>
<line x1="18.00" y1="360.50" x2="244.00" y2="360.50" stroke="#111" stroke-width="1"/>
<text class="r" x="21.20" y="237.50" font-size="5.45" text-anchor="start" font-weight="normal" fill="#151515"   >CD20+ B cell</text>
<text class="r" x="21.20" y="244.95" font-size="5.45" text-anchor="start" font-weight="normal" fill="#151515"   >CD4+  T cell</text>
<text class="r" x="21.20" y="252.40" font-size="5.45" text-anchor="start" font-weight="normal" fill="#151515"   >CD4+CD8+ T cell</text>
<text class="r" x="21.20" y="259.85" font-size="5.45" text-anchor="start" font-weight="normal" fill="#151515"   >CD4+CD25+ T cell</text>
<text class="r" x="21.20" y="267.30" font-size="5.45" text-anchor="start" font-weight="normal" fill="#151515"   >CD4+CD29+ T cell</text>
<text class="r" x="21.20" y="274.75" font-size="5.45" text-anchor="start" font-weight="normal" fill="#151515"   >CD4+CD45RA+ T cell</text>
<text class="r" x="21.20" y="282.20" font-size="5.45" text-anchor="start" font-weight="normal" fill="#151515"   >CD4+CD45RA- T cell</text>
<text class="r" x="21.20" y="289.65" font-size="5.45" text-anchor="start" font-weight="normal" fill="#151515"   >CD4+CD45RO+ T cell</text>
<text class="r" x="21.20" y="297.10" font-size="5.45" text-anchor="start" font-weight="normal" fill="#151515"   >CD4+CD45RO- T cell</text>
<text class="r" x="21.20" y="304.55" font-size="5.45" text-anchor="start" font-weight="normal" fill="#151515"   >CD8+  T cell</text>
<text class="r" x="21.20" y="312.00" font-size="5.45" text-anchor="start" font-weight="normal" fill="#151515"   >CD8+CD25+ T cell</text>
<text class="r" x="21.20" y="319.45" font-size="5.45" text-anchor="start" font-weight="normal" fill="#151515"   >CD8+CD11b+ T cell</text>
<text class="r" x="21.20" y="326.90" font-size="5.45" text-anchor="start" font-weight="normal" fill="#151515"   >CD8+CD11b- T cell</text>
<text class="r" x="21.20" y="334.35" font-size="5.45" text-anchor="start" font-weight="normal" fill="#151515"   >CD3+CD56+ NKT cell</text>
<text class="r" x="21.20" y="341.80" font-size="5.45" text-anchor="start" font-weight="normal" fill="#151515"   >CD3-CD56+ NK cell</text>
<text class="r" x="21.20" y="349.25" font-size="5.45" text-anchor="start" font-weight="normal" fill="#151515"   >CD16+CD57+ NK cell</text>
<text class="r" x="21.20" y="356.70" font-size="5.45" text-anchor="start" font-weight="normal" fill="#151515"   >CD16+CD57- NK cell</text>
<line x1="243.50" y1="233.40" x2="243.50" y2="360.50" stroke="#111" stroke-width="1"/>
<line x1="161.50" y1="233.40" x2="161.50" y2="360.50" stroke="#222" stroke-width="1.1"/>
<text  x="161.30" y="228.10" font-size="5.3" text-anchor="middle" font-weight="bold" fill="#000"   stroke="#000" stroke-width="0.25">Chronic GVHD</text>
<text x="243.30" y="228.10" font-size="5.3" text-anchor="end" font-weight="bold" fill="#000" stroke="#000" stroke-width="0.25"><tspan font-style="italic">P</tspan> value</text>
<line x1="126.70" y1="257.50" x2="157.80" y2="257.50" stroke="#c6c8d2" stroke-width="0.9"/>
<line x1="126.70" y1="256.60" x2="126.70" y2="258.40" stroke="#c6c8d2" stroke-width="0.6"/>
<line x1="157.80" y1="256.60" x2="157.80" y2="258.40" stroke="#c6c8d2" stroke-width="0.6"/>
<rect x="148.65" y="256.45" width="1.9" height="2.1" rx="0.5" fill="#1b2444" stroke="#fff" stroke-width="0.7" paint-order="stroke"/>
<text class="r" x="241.30" y="259.45" font-size="5.4" text-anchor="end" font-weight="normal" fill="#151515"   >0.041</text>
<line x1="158.40" y1="287.50" x2="200.90" y2="287.50" stroke="#c6c8d2" stroke-width="0.9"/>
<line x1="158.40" y1="286.60" x2="158.40" y2="288.40" stroke="#c6c8d2" stroke-width="0.6"/>
<line x1="200.90" y1="286.60" x2="200.90" y2="288.40" stroke="#c6c8d2" stroke-width="0.6"/>
<rect x="177.05" y="286.45" width="1.9" height="2.1" rx="0.5" fill="#1b2444" stroke="#fff" stroke-width="0.7" paint-order="stroke"/>
<text class="r" x="241.30" y="289.25" font-size="5.4" text-anchor="end" font-weight="normal" fill="#151515"   >0.073</text>
<line x1="153.50" y1="302.50" x2="193.40" y2="302.50" stroke="#c6c8d2" stroke-width="0.9"/>
<line x1="153.50" y1="301.60" x2="153.50" y2="303.40" stroke="#c6c8d2" stroke-width="0.6"/>
<line x1="193.40" y1="301.60" x2="193.40" y2="303.40" stroke="#c6c8d2" stroke-width="0.6"/>
<rect x="167.25" y="301.45" width="1.9" height="2.1" rx="0.5" fill="#1b2444" stroke="#fff" stroke-width="0.7" paint-order="stroke"/>
<text class="r" x="241.30" y="304.15" font-size="5.4" text-anchor="end" font-weight="normal" fill="#151515"   >0.571</text>
<line x1="168.20" y1="317.50" x2="214.00" y2="317.50" stroke="#c6c8d2" stroke-width="0.9"/>
<line x1="168.20" y1="316.60" x2="168.20" y2="318.40" stroke="#c6c8d2" stroke-width="0.6"/>
<line x1="214.00" y1="316.60" x2="214.00" y2="318.40" stroke="#c6c8d2" stroke-width="0.6"/>
<rect x="187.25" y="316.45" width="1.9" height="2.1" rx="0.5" fill="#1b2444" stroke="#fff" stroke-width="0.7" paint-order="stroke"/>
<text class="r" x="241.30" y="319.05" font-size="5.4" text-anchor="end" font-weight="normal" fill="#151515"   >0.012</text>
<line x1="166.60" y1="331.50" x2="202.50" y2="331.50" stroke="#c6c8d2" stroke-width="0.9"/>
<line x1="166.60" y1="330.60" x2="166.60" y2="332.40" stroke="#c6c8d2" stroke-width="0.6"/>
<line x1="202.50" y1="330.60" x2="202.50" y2="332.40" stroke="#c6c8d2" stroke-width="0.6"/>
<rect x="181.05" y="330.45" width="1.9" height="2.1" rx="0.5" fill="#1b2444" stroke="#fff" stroke-width="0.7" paint-order="stroke"/>
<text class="r" x="241.30" y="333.95" font-size="5.4" text-anchor="end" font-weight="normal" fill="#151515"   >0.025</text>
<line x1="134.90" y1="346.50" x2="170.80" y2="346.50" stroke="#c6c8d2" stroke-width="0.9"/>
<line x1="134.90" y1="345.60" x2="134.90" y2="347.40" stroke="#c6c8d2" stroke-width="0.6"/>
<line x1="170.80" y1="345.60" x2="170.80" y2="347.40" stroke="#c6c8d2" stroke-width="0.6"/>
<rect x="150.25" y="345.45" width="1.9" height="2.1" rx="0.5" fill="#1b2444" stroke="#fff" stroke-width="0.7" paint-order="stroke"/>
<text class="r" x="241.30" y="348.85" font-size="5.4" text-anchor="end" font-weight="normal" fill="#151515"   >0.187</text>
<line x1="122.50" y1="354.50" x2="157.80" y2="354.50" stroke="#c6c8d2" stroke-width="0.9"/>
<line x1="122.50" y1="353.60" x2="122.50" y2="355.40" stroke="#c6c8d2" stroke-width="0.6"/>
<line x1="157.80" y1="353.60" x2="157.80" y2="355.40" stroke="#c6c8d2" stroke-width="0.6"/>
<rect x="137.85" y="353.45" width="1.9" height="2.1" rx="0.5" fill="#1b2444" stroke="#fff" stroke-width="0.7" paint-order="stroke"/>
<text class="r" x="241.30" y="356.30" font-size="5.4" text-anchor="end" font-weight="normal" fill="#151515"   >0.027</text>
<line x1="112.90" y1="360.50" x2="112.90" y2="362.70" stroke="#222" stroke-width="0.8"/>
<text class="r" x="112.90" y="371.00" font-size="5.2" text-anchor="middle" font-weight="normal" fill="#151515"   >0.125</text>
<line x1="129.10" y1="360.50" x2="129.10" y2="362.70" stroke="#222" stroke-width="0.8"/>
<text class="r" x="129.10" y="371.00" font-size="5.2" text-anchor="middle" font-weight="normal" fill="#151515"   >0.25</text>
<line x1="145.30" y1="360.50" x2="145.30" y2="362.70" stroke="#222" stroke-width="0.8"/>
<text class="r" x="145.30" y="371.00" font-size="5.2" text-anchor="middle" font-weight="normal" fill="#151515"   >0.5</text>
<line x1="161.50" y1="360.50" x2="161.50" y2="362.70" stroke="#222" stroke-width="0.8"/>
<text class="r" x="161.50" y="371.00" font-size="5.2" text-anchor="middle" font-weight="normal" fill="#151515"   >1.0</text>
<line x1="177.70" y1="360.50" x2="177.70" y2="362.70" stroke="#222" stroke-width="0.8"/>
<text class="r" x="177.70" y="371.00" font-size="5.2" text-anchor="middle" font-weight="normal" fill="#151515"   >2.0</text>
<line x1="193.90" y1="360.50" x2="193.90" y2="362.70" stroke="#222" stroke-width="0.8"/>
<text class="r" x="193.90" y="371.00" font-size="5.2" text-anchor="middle" font-weight="normal" fill="#151515"   >4.0</text>
<line x1="210.10" y1="360.50" x2="210.10" y2="362.70" stroke="#222" stroke-width="0.8"/>
<text class="r" x="210.10" y="371.00" font-size="5.2" text-anchor="middle" font-weight="normal" fill="#151515"   >8.0</text>
<text x="0" y="0" font-size="7.1" text-anchor="middle" font-weight="normal" fill="#222" stroke="#222" stroke-width="0.3" transform="translate(161.50,380.90) scale(0.72,1)">HR (95% CI)</text>
<text class="r" x="100.80" y="391.20" font-size="5.3" text-anchor="start" font-weight="normal" fill="#151515"   >cGVHD Better</text>
<text class="r" x="188.50" y="391.20" font-size="5.3" text-anchor="start" font-weight="normal" fill="#151515"   >cGVHD Worse</text>
<line x1="139.20" y1="389.30" x2="158.30" y2="389.30" stroke="#2a4a8a" stroke-width="1.15"/>
<path d="M137.70 389.30 L140.90 387.95 L140.30 389.30 L140.90 390.65 Z" fill="#2a4a8a"/>
<line x1="164.50" y1="389.30" x2="183.90" y2="389.30" stroke="#b81c3c" stroke-width="1.15"/>
<path d="M185.40 389.30 L182.20 387.95 L182.80 389.30 L182.20 390.65 Z" fill="#b81c3c"/>
<rect x="294.70" y="255.40" width="10.90" height="16.00" fill="#a8d080"/>
<rect x="305.00" y="255.40" width="10.90" height="16.00" fill="#98cc78"/>
<rect x="315.30" y="255.40" width="10.90" height="16.00" fill="#c0d888"/>
<rect x="325.60" y="255.40" width="10.90" height="16.00" fill="#90c878"/>
<rect x="335.90" y="255.40" width="10.90" height="16.00" fill="#a0d080"/>
<rect x="346.20" y="255.40" width="10.90" height="16.00" fill="#e0e088"/>
<rect x="356.50" y="255.40" width="10.90" height="16.00" fill="#98cc78"/>
<rect x="366.80" y="255.40" width="10.90" height="16.00" fill="#e0e088"/>
<rect x="377.10" y="255.40" width="10.90" height="16.00" fill="#fce080"/>
<rect x="387.40" y="255.40" width="10.90" height="16.00" fill="#fce080"/>
<rect x="397.70" y="255.40" width="10.90" height="16.00" fill="#fcb070"/>
<rect x="408.00" y="255.40" width="10.90" height="16.00" fill="#fcc078"/>
<rect x="418.30" y="255.40" width="10.90" height="16.00" fill="#a8d080"/>
<rect x="428.60" y="255.40" width="10.90" height="16.00" fill="#90c878"/>
<rect x="438.90" y="255.40" width="10.90" height="16.00" fill="#98cc78"/>
<rect x="449.20" y="255.40" width="10.90" height="16.00" fill="#88c878"/>
<rect x="459.50" y="255.40" width="10.30" height="16.00" fill="#68b870"/>
<rect x="294.70" y="270.80" width="10.90" height="17.30" fill="#fce080"/>
<rect x="305.00" y="270.80" width="10.90" height="17.30" fill="#a8d480"/>
<rect x="315.30" y="270.80" width="10.90" height="17.30" fill="#fcd880"/>
<rect x="325.60" y="270.80" width="10.90" height="17.30" fill="#c8dc88"/>
<rect x="335.90" y="270.80" width="10.90" height="17.30" fill="#e0e088"/>
<rect x="346.20" y="270.80" width="10.90" height="17.30" fill="#c0d888"/>
<rect x="356.50" y="270.80" width="10.90" height="17.30" fill="#fce888"/>
<rect x="366.80" y="270.80" width="10.90" height="17.30" fill="#fce080"/>
<rect x="377.10" y="270.80" width="10.90" height="17.30" fill="#e0e088"/>
<rect x="387.40" y="270.80" width="10.90" height="17.30" fill="#fce888"/>
<rect x="397.70" y="270.80" width="10.90" height="17.30" fill="#fcb878"/>
<rect x="408.00" y="270.80" width="10.90" height="17.30" fill="#fcc078"/>
<rect x="418.30" y="270.80" width="10.90" height="17.30" fill="#fce888"/>
<rect x="428.60" y="270.80" width="10.90" height="17.30" fill="#fcc47c"/>
<rect x="438.90" y="270.80" width="10.90" height="17.30" fill="#d8e088"/>
<rect x="449.20" y="270.80" width="10.90" height="17.30" fill="#c8dc88"/>
<rect x="459.50" y="270.80" width="10.30" height="17.30" fill="#a8d080"/>
<rect x="294.70" y="287.50" width="10.90" height="17.70" fill="#60b870"/>
<rect x="305.00" y="287.50" width="10.90" height="17.70" fill="#78c078"/>
<rect x="315.30" y="287.50" width="10.90" height="17.70" fill="#a0d080"/>
<rect x="325.60" y="287.50" width="10.90" height="17.70" fill="#88c878"/>
<rect x="335.90" y="287.50" width="10.90" height="17.70" fill="#b0d488"/>
<rect x="346.20" y="287.50" width="10.90" height="17.70" fill="#70bc78"/>
<rect x="356.50" y="287.50" width="10.90" height="17.70" fill="#80c478"/>
<rect x="366.80" y="287.50" width="10.90" height="17.70" fill="#e0e090"/>
<rect x="377.10" y="287.50" width="10.90" height="17.70" fill="#f0e488"/>
<rect x="387.40" y="287.50" width="10.90" height="17.70" fill="#fce888"/>
<rect x="397.70" y="287.50" width="10.90" height="17.70" fill="#fcc078"/>
<rect x="408.00" y="287.50" width="10.90" height="17.70" fill="#f8a070"/>
<rect x="418.30" y="287.50" width="10.90" height="17.70" fill="#fcc078"/>
<rect x="428.60" y="287.50" width="10.90" height="17.70" fill="#60b870"/>
<rect x="438.90" y="287.50" width="10.90" height="17.70" fill="#a0d080"/>
<rect x="449.20" y="287.50" width="10.90" height="17.70" fill="#a0d080"/>
<rect x="459.50" y="287.50" width="10.30" height="17.70" fill="#a0d080"/>
<rect x="294.70" y="304.60" width="10.90" height="16.50" fill="#fcc878"/>
<rect x="305.00" y="304.60" width="10.90" height="16.50" fill="#f8a070"/>
<rect x="315.30" y="304.60" width="10.90" height="16.50" fill="#fcd880"/>
<rect x="325.60" y="304.60" width="10.90" height="16.50" fill="#fcb878"/>
<rect x="335.90" y="304.60" width="10.90" height="16.50" fill="#fcb878"/>
<rect x="346.20" y="304.60" width="10.90" height="16.50" fill="#fcd080"/>
<rect x="356.50" y="304.60" width="10.90" height="16.50" fill="#f8b070"/>
<rect x="366.80" y="304.60" width="10.90" height="16.50" fill="#f88868"/>
<rect x="377.10" y="304.60" width="10.90" height="16.50" fill="#f87870"/>
<rect x="387.40" y="304.60" width="10.90" height="16.50" fill="#f88870"/>
<rect x="397.70" y="304.60" width="10.90" height="16.50" fill="#f86870"/>
<rect x="408.00" y="304.60" width="10.90" height="16.50" fill="#f88070"/>
<rect x="418.30" y="304.60" width="10.90" height="16.50" fill="#f87870"/>
<rect x="428.60" y="304.60" width="10.90" height="16.50" fill="#f8a070"/>
<rect x="438.90" y="304.60" width="10.90" height="16.50" fill="#fcc078"/>
<rect x="449.20" y="304.60" width="10.90" height="16.50" fill="#fcd080"/>
<rect x="459.50" y="304.60" width="10.30" height="16.50" fill="#fcd080"/>
<text class="r" x="282.20" y="263.40" font-size="5.5" text-anchor="middle" font-weight="normal" fill="#151515"   >OS</text>
<text class="r" x="282.20" y="280.70" font-size="5.5" text-anchor="middle" font-weight="normal" fill="#151515"   >CIR</text>
<text class="r" x="282.20" y="297.10" font-size="5.5" text-anchor="middle" font-weight="normal" fill="#151515"   >NRM</text>
<text class="r" x="282.20" y="315.10" font-size="5.5" text-anchor="middle" font-weight="normal" fill="#151515"   >cGVHD</text>
<text x="302.45" y="324.70" font-size="5.5" text-anchor="end" fill="#151515" transform="rotate(-45 302.45 324.70)">CD20+Bcell</text>
<text x="312.75" y="324.70" font-size="5.5" text-anchor="end" fill="#151515" transform="rotate(-45 312.75 324.70)">CD4+Tcell</text>
<text x="323.05" y="324.70" font-size="5.5" text-anchor="end" fill="#151515" transform="rotate(-45 323.05 324.70)">CD4+CD25+Tcell</text>
<text x="333.35" y="324.70" font-size="5.5" text-anchor="end" fill="#151515" transform="rotate(-45 333.35 324.70)">CD4+CD29+Tcell</text>
<text x="343.65" y="324.70" font-size="5.5" text-anchor="end" fill="#151515" transform="rotate(-45 343.65 324.70)">CD4+CD45RA+Tcell</text>
<text x="353.95" y="324.70" font-size="5.5" text-anchor="end" fill="#151515" transform="rotate(-45 353.95 324.70)">CD4+CD45RA-Tcell</text>
<text x="364.25" y="324.70" font-size="5.5" text-anchor="end" fill="#151515" transform="rotate(-45 364.25 324.70)">CD4+CD45RO+Tcell</text>
<text x="374.55" y="324.70" font-size="5.5" text-anchor="end" fill="#151515" transform="rotate(-45 374.55 324.70)">CD4+CD45RO-Tcell</text>
<text x="384.85" y="324.70" font-size="5.5" text-anchor="end" fill="#151515" transform="rotate(-45 384.85 324.70)">CD8+Tcell</text>
<text x="395.15" y="324.70" font-size="5.5" text-anchor="end" fill="#151515" transform="rotate(-45 395.15 324.70)">CD8+CD25+Tcell</text>
<text x="405.45" y="324.70" font-size="5.5" text-anchor="end" fill="#151515" transform="rotate(-45 405.45 324.70)">CD3+CD56+NKTcell</text>
<text x="415.75" y="324.70" font-size="5.5" text-anchor="end" fill="#151515" transform="rotate(-45 415.75 324.70)">CD4+CD8+Tcell</text>
<text x="426.05" y="324.70" font-size="5.5" text-anchor="end" fill="#151515" transform="rotate(-45 426.05 324.70)">CD8+CD11b+Tcell</text>
<text x="436.35" y="324.70" font-size="5.5" text-anchor="end" fill="#151515" transform="rotate(-45 436.35 324.70)">CD8+CD11b-Tcell</text>
<text x="446.65" y="324.70" font-size="5.5" text-anchor="end" fill="#151515" transform="rotate(-45 446.65 324.70)">CD3-CD56+NKcell</text>
<text x="456.95" y="324.70" font-size="5.5" text-anchor="end" fill="#151515" transform="rotate(-45 456.95 324.70)">CD16+CD57+NKcell</text>
<text x="467.25" y="324.70" font-size="5.5" text-anchor="end" fill="#151515" transform="rotate(-45 467.25 324.70)">CD16+CD57-NKcell</text>
<line x1="355.80" y1="233.30" x2="450.50" y2="233.30" stroke="#333" stroke-width="0.7"/>
<line x1="355.80" y1="233.30" x2="355.80" y2="243.20" stroke="#333" stroke-width="0.7"/>
<line x1="450.50" y1="233.30" x2="450.50" y2="237.40" stroke="#333" stroke-width="0.7"/>
<line x1="313.30" y1="243.20" x2="398.40" y2="243.20" stroke="#333" stroke-width="0.7"/>
<line x1="313.30" y1="243.20" x2="313.30" y2="248.40" stroke="#333" stroke-width="0.7"/>
<line x1="398.40" y1="243.20" x2="398.40" y2="246.30" stroke="#333" stroke-width="0.7"/>
<line x1="297.30" y1="248.40" x2="330.60" y2="248.40" stroke="#333" stroke-width="0.7"/>
<line x1="297.30" y1="248.40" x2="297.30" y2="251.60" stroke="#333" stroke-width="0.7"/>
<line x1="330.60" y1="248.40" x2="330.60" y2="250.80" stroke="#333" stroke-width="0.7"/>
<line x1="309.00" y1="251.20" x2="330.60" y2="251.20" stroke="#333" stroke-width="0.7"/>
<line x1="316.00" y1="250.60" x2="330.60" y2="250.60" stroke="#333" stroke-width="0.7"/>
<line x1="330.60" y1="251.40" x2="350.00" y2="251.40" stroke="#333" stroke-width="0.7"/>
<line x1="339.30" y1="250.90" x2="345.00" y2="250.90" stroke="#333" stroke-width="0.7"/>
<line x1="377.70" y1="246.30" x2="418.50" y2="246.30" stroke="#333" stroke-width="0.7"/>
<line x1="377.70" y1="246.30" x2="377.70" y2="250.50" stroke="#333" stroke-width="0.7"/>
<line x1="361.00" y1="250.80" x2="402.50" y2="250.80" stroke="#333" stroke-width="0.7"/>
<line x1="366.00" y1="250.30" x2="372.00" y2="250.30" stroke="#333" stroke-width="0.7"/>
<line x1="381.00" y1="250.30" x2="388.00" y2="250.30" stroke="#333" stroke-width="0.7"/>
<line x1="392.00" y1="250.30" x2="400.00" y2="250.30" stroke="#333" stroke-width="0.7"/>
<line x1="418.50" y1="246.30" x2="418.50" y2="250.30" stroke="#333" stroke-width="0.7"/>
<line x1="413.00" y1="250.30" x2="423.60" y2="250.30" stroke="#333" stroke-width="0.7"/>
<line x1="413.00" y1="250.30" x2="413.00" y2="251.60" stroke="#333" stroke-width="0.7"/>
<line x1="423.60" y1="250.30" x2="423.60" y2="251.60" stroke="#333" stroke-width="0.7"/>
<line x1="439.30" y1="237.40" x2="460.90" y2="237.40" stroke="#333" stroke-width="0.7"/>
<line x1="439.30" y1="237.40" x2="439.30" y2="250.30" stroke="#333" stroke-width="0.7"/>
<line x1="434.30" y1="250.30" x2="445.10" y2="250.30" stroke="#333" stroke-width="0.7"/>
<line x1="434.30" y1="250.30" x2="434.30" y2="251.60" stroke="#333" stroke-width="0.7"/>
<line x1="445.10" y1="250.30" x2="445.10" y2="251.60" stroke="#333" stroke-width="0.7"/>
<line x1="460.90" y1="237.40" x2="460.90" y2="246.50" stroke="#333" stroke-width="0.7"/>
<line x1="455.50" y1="246.50" x2="466.60" y2="246.50" stroke="#333" stroke-width="0.7"/>
<line x1="455.50" y1="246.50" x2="455.50" y2="251.60" stroke="#333" stroke-width="0.7"/>
<line x1="466.60" y1="246.50" x2="466.60" y2="251.60" stroke="#333" stroke-width="0.7"/>
<line x1="472.00" y1="262.40" x2="476.40" y2="262.40" stroke="#333" stroke-width="0.7"/>
<line x1="476.40" y1="262.40" x2="476.40" y2="296.20" stroke="#333" stroke-width="0.7"/>
<line x1="472.90" y1="296.20" x2="476.40" y2="296.20" stroke="#333" stroke-width="0.7"/>
<line x1="472.00" y1="286.60" x2="473.80" y2="286.60" stroke="#333" stroke-width="0.7"/>
<line x1="473.80" y1="286.60" x2="473.80" y2="307.60" stroke="#333" stroke-width="0.7"/>
<line x1="472.50" y1="299.70" x2="472.50" y2="313.80" stroke="#333" stroke-width="0.7"/>
<line x1="472.00" y1="313.80" x2="472.50" y2="313.80" stroke="#333" stroke-width="0.7"/>
<line x1="472.00" y1="299.70" x2="472.50" y2="299.70" stroke="#333" stroke-width="0.7"/>
<text class="r" x="492.50" y="251.20" font-size="5.4" text-anchor="middle" font-weight="normal" fill="#151515"   >Color key</text>
<defs><linearGradient id="ck" x1="0" y1="0" x2="0" y2="1"><stop offset="0" stop-color="#ff1030"/><stop offset="0.1" stop-color="#f83a50"/><stop offset="0.22" stop-color="#f07068"/><stop offset="0.36" stop-color="#f8a060"/><stop offset="0.5" stop-color="#ffe068"/><stop offset="0.65" stop-color="#d8e070"/><stop offset="0.8" stop-color="#a0d070"/><stop offset="1" stop-color="#30a850"/></linearGradient></defs>
<rect x="491.3" y="254.6" width="2.4" height="67.8" fill="url(#ck)"/>
<line x1="493.60" y1="257.00" x2="496.20" y2="257.00" stroke="#333" stroke-width="0.7"/>
<text class="r" x="499.30" y="258.80" font-size="5.2" text-anchor="start" font-weight="normal" fill="#151515"   >8.0</text>
<line x1="493.60" y1="267.15" x2="496.20" y2="267.15" stroke="#333" stroke-width="0.7"/>
<text class="r" x="499.30" y="268.95" font-size="5.2" text-anchor="start" font-weight="normal" fill="#151515"   >4.0</text>
<line x1="493.60" y1="277.30" x2="496.20" y2="277.30" stroke="#333" stroke-width="0.7"/>
<text class="r" x="499.30" y="279.10" font-size="5.2" text-anchor="start" font-weight="normal" fill="#151515"   >2.0</text>
<line x1="493.60" y1="287.45" x2="496.20" y2="287.45" stroke="#333" stroke-width="0.7"/>
<text class="r" x="499.30" y="289.25" font-size="5.2" text-anchor="start" font-weight="normal" fill="#151515"   >1.0</text>
<line x1="493.60" y1="297.60" x2="496.20" y2="297.60" stroke="#333" stroke-width="0.7"/>
<text class="r" x="499.30" y="299.40" font-size="5.2" text-anchor="start" font-weight="normal" fill="#151515"   >0.5</text>
<line x1="493.60" y1="307.75" x2="496.20" y2="307.75" stroke="#333" stroke-width="0.7"/>
<text class="r" x="499.30" y="309.55" font-size="5.2" text-anchor="start" font-weight="normal" fill="#151515"   >0.25</text>
<line x1="493.60" y1="317.90" x2="496.20" y2="317.90" stroke="#333" stroke-width="0.7"/>
<text class="r" x="499.30" y="319.70" font-size="5.2" text-anchor="start" font-weight="normal" fill="#151515"   >0.125</text>
<text x="0" y="0" font-size="7.1" text-anchor="middle" font-weight="normal" fill="#222" stroke="#222" stroke-width="0.3" transform="translate(492.30,332.20) scale(0.72,1)">HR (95% CI)</text>
</svg>
</body></html>
